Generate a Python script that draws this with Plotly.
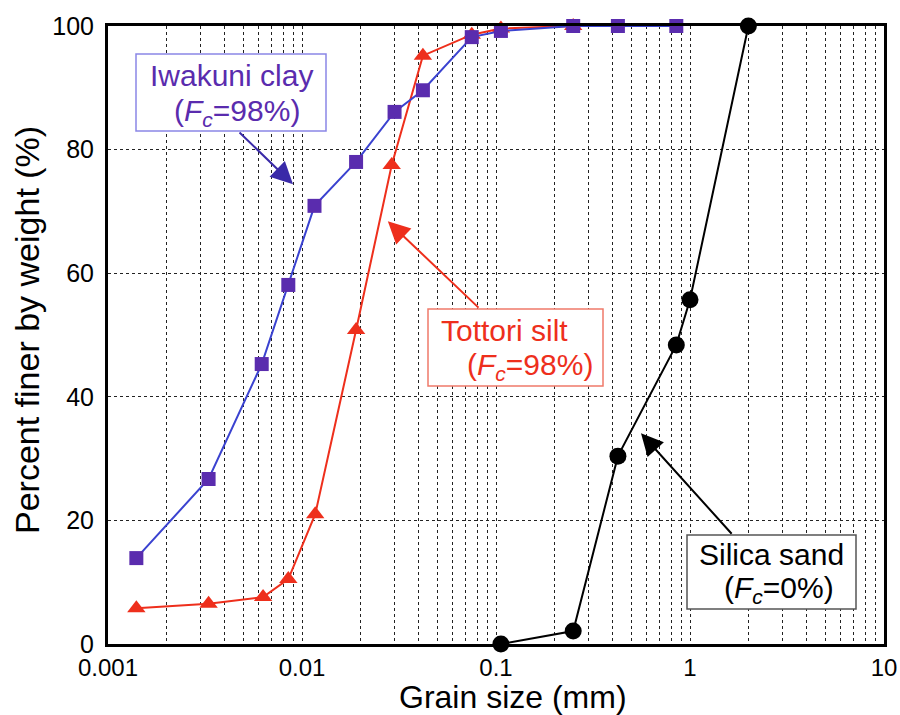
import math
import plotly.graph_objects as go

# Grain size distribution data (grain size in mm, percent finer by weight)
iwakuni_d = [0.0014, 0.0033, 0.0062, 0.0085, 0.0116, 0.019, 0.030, 0.042, 0.075, 0.106, 0.25, 0.425, 0.85]
iwakuni_p = [13.9, 26.7, 45.3, 58.1, 70.9, 78.0, 86.1, 89.6, 98.2, 99.2, 100, 100, 100]

tottori_d = [0.0014, 0.0033, 0.0063, 0.0085, 0.0117, 0.019, 0.029, 0.042, 0.075, 0.106, 0.25]
tottori_p = [5.8, 6.5, 7.6, 10.5, 21.0, 50.8, 77.5, 95.2, 98.6, 99.6, 100]

silica_d = [0.106, 0.25, 0.425, 0.85, 1.0, 2.0]
silica_p = [0, 2.1, 30.4, 48.4, 55.7, 100]

x_ticks = [0.001, 0.01, 0.1, 1, 10]
x_tick_text = ["0.001", "0.01", "0.1", "1", "10"]
y_ticks = [0, 20, 40, 60, 80, 100]

FONT = "Arial, Liberation Sans, sans-serif"
PURPLE = "#5a2cae"
BLUE_LINE = "#3a42d0"
RED = "#ee2f1c"

fig = go.Figure()

# silt first so the clay curve sits on top of it near 100 %
fig.add_trace(go.Scatter(
    x=tottori_d, y=tottori_p, mode="lines+markers", name="Tottori silt",
    line=dict(color=RED, width=2),
    marker=dict(symbol="triangle-up", size=16, color=RED),
    cliponaxis=False,
))
fig.add_trace(go.Scatter(
    x=iwakuni_d, y=iwakuni_p, mode="lines+markers", name="Iwakuni clay",
    line=dict(color=BLUE_LINE, width=2),
    marker=dict(symbol="square", size=14, color=PURPLE),
    cliponaxis=False,
))
fig.add_trace(go.Scatter(
    x=silica_d, y=silica_p, mode="lines+markers", name="Silica sand",
    line=dict(color="black", width=2),
    marker=dict(symbol="circle", size=17, color="black"),
    cliponaxis=False,
))

L, R, T, B = 108, 16, 26, 71
W, H = 900, 715
PW, PH = W - L - R, H - T - B


def px(xp):
    return (xp - L) / PW


def py(yp):
    return (H - B - yp) / PH


FC = "(<i>F</i><sub><i>c</i></sub>={}%)"

# labelled boxes: box (x0, y0, x1, y1) in pixels, border colour, text colour,
# and each text line with its centre position
boxes = [
    ((136, 54, 326, 131), "#8a86e6", PURPLE,
     [("Iwakuni clay", 231, 75), (FC.format(98), 237, 112)]),
    ((428, 309, 603, 386), "#f07a6a", RED,
     [("Tottori silt", 505, 330), (FC.format(98), 530, 366)]),
    ((687, 535, 856, 609), "#555555", "black",
     [("Silica sand", 771, 554), (FC.format(0), 779, 589)]),
]

shapes = []
annotations = []
for (x0, y0, x1, y1), bc, tc, lines in boxes:
    shapes.append(dict(type="rect", xref="paper", yref="paper",
                       x0=px(x0), x1=px(x1), y0=py(y1), y1=py(y0),
                       line=dict(color=bc, width=1.5), fillcolor="white", layer="above"))
    for txt, cx, cy in lines:
        annotations.append(dict(
            xref="paper", yref="paper", x=px(cx), y=py(cy),
            xanchor="center", yanchor="middle", showarrow=False,
            text=txt, font=dict(family=FONT, size=30, color=tc),
        ))

# arrows from each label to its curve: (tail d, tail %, head d, head %, colour)
arrows = [
    (0.00468, 83.0, 0.00899, 74.4, "#3a2aa8"),
    (0.0827, 54.2, 0.0277, 68.4, RED),
    (1.666, 17.6, 0.559, 34.1, "black"),
]
for td, tp, hd, hp, c in arrows:
    annotations.append(dict(
        x=math.log10(hd), y=hp, ax=math.log10(td), ay=tp,
        xref="x", yref="y", axref="x", ayref="y",
        text="", showarrow=True, arrowhead=2, arrowsize=2.2,
        arrowwidth=2, arrowcolor=c,
    ))

# axis titles
annotations.append(dict(
    xref="paper", yref="paper", x=px(513), y=py(697), showarrow=False,
    text="Grain size (mm)", font=dict(family=FONT, size=32, color="black"),
    xanchor="center", yanchor="middle",
))
annotations.append(dict(
    xref="paper", yref="paper", x=px(27), y=py(330), showarrow=False,
    text="Percent finer by weight (%)", textangle=-90,
    font=dict(family=FONT, size=34, color="black"),
    xanchor="center", yanchor="middle",
))

grid = dict(gridcolor="#222222", griddash="dot", gridwidth=1.4)

fig.update_layout(
    width=W, height=H,
    margin=dict(l=L, r=R, t=T, b=B, autoexpand=False),
    paper_bgcolor="white", plot_bgcolor="white",
    showlegend=False,
    font=dict(family=FONT, size=25, color="black"),
    shapes=shapes, annotations=annotations,
    xaxis=dict(
        type="log", range=[-3, 1], automargin=False,
        tickvals=x_ticks, ticktext=x_tick_text, ticks="",
        tickfont=dict(size=24),
        showgrid=True, **grid,
        minor=dict(dtick="D1", showgrid=True, **grid),
        showline=True, linecolor="black", linewidth=3, mirror=True,
        zeroline=False, ticklabelstandoff=0,
    ),
    yaxis=dict(
        range=[0, 100], tickvals=y_ticks, ticks="", automargin=False,
        showgrid=True, **grid,
        showline=True, linecolor="black", linewidth=3, mirror=True,
        zeroline=False, ticklabelstandoff=6,
    ),
)

fig.write_html("out.html")
